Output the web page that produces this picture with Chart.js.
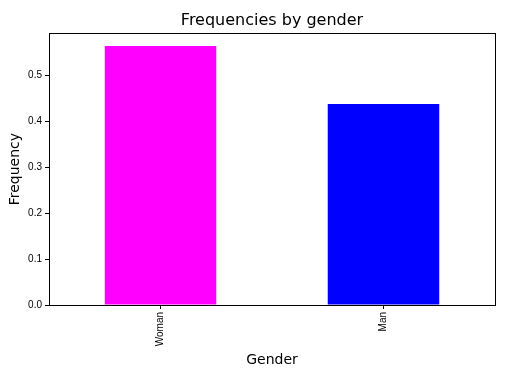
<!DOCTYPE html>
<html>
<head>
<meta charset="utf-8">
<script src="https://cdn.jsdelivr.net/npm/chart.js@4"></script>
<style>
  html, body { margin: 0; padding: 0; background: #fff; }
  #wrap { width: 524px; height: 380px; }
</style>
</head>
<body>
<div id="wrap"><canvas id="grafico" width="524" height="380"></canvas></div>
<script>
const categorias = ['Woman', 'Man'];
const frequencias = [0.563, 0.437];
const coresBarras = ['#ff00ff', '#0000ff'];
const ticksY = [0.0, 0.1, 0.2, 0.3, 0.4, 0.5];
const limiteY = 0.591;

// moldura preta em volta da área do gráfico (estilo matplotlib)
const moldura = {
    id: 'moldura',
    afterDraw(chart) {
        const { ctx, chartArea } = chart;
        ctx.save();
        ctx.strokeStyle = '#000';
        ctx.lineWidth = 1;
        ctx.strokeRect(Math.round(chartArea.left) + 0.5, Math.round(chartArea.top) + 0.5,
            Math.round(chartArea.right - chartArea.left), Math.round(chartArea.bottom - chartArea.top));
        ctx.restore();
    }
};

const ctx = document.getElementById('grafico').getContext('2d');
new Chart(ctx, {
    type: 'bar',
    data: {
        labels: categorias,
        datasets: [{
            data: frequencias,
            backgroundColor: coresBarras,
            borderWidth: 0,
            barPercentage: 0.5,
            categoryPercentage: 1.0
        }]
    },
    options: {
        responsive: false,
        animation: false,
        layout: { padding: { left: 0, right: 29, top: 0, bottom: 0 } },
        plugins: {
            legend: { display: false },
            tooltip: { enabled: false },
            title: {
                display: true,
                text: 'Frequencies by gender',
                fullSize: false,
                color: '#000',
                font: { family: 'DejaVu Sans', size: 16, weight: 'normal', lineHeight: 1.2 },
                padding: { top: 11, bottom: 3 }
            }
        },
        scales: {
            x: {
                grid: { display: true, offset: false, drawOnChartArea: false, tickLength: 4, color: '#000' },
                border: { display: false },
                ticks: {
                    color: '#000',
                    font: { family: 'Liberation Sans', size: 10 },
                    minRotation: 90,
                    maxRotation: 90,
                    padding: 3
                },
                title: {
                    display: true,
                    text: 'Gender',
                    color: '#000',
                    font: { family: 'DejaVu Sans', size: 14, lineHeight: 1.2 },
                    padding: { top: 0, bottom: 11 }
                },
                afterFit(scale) { scale.height = 75; }
            },
            y: {
                min: 0,
                max: limiteY,
                grid: { display: true, drawOnChartArea: false, tickLength: 4, color: '#000' },
                border: { display: false },
                afterBuildTicks(scale) {
                    scale.ticks = ticksY.map(v => ({ value: v }));
                },
                ticks: {
                    color: '#000',
                    font: { family: 'Liberation Sans', size: 10 },
                    padding: 3,
                    callback: v => Number(v).toFixed(1)
                },
                title: {
                    display: true,
                    text: 'Frequency',
                    color: '#000',
                    font: { family: 'DejaVu Sans', size: 14, lineHeight: 1.2 },
                    padding: { top: 7, bottom: 0 }
                },
                afterFit(scale) { scale.width = 49; }
            }
        }
    },
    plugins: [moldura]
});
</script>
</body>
</html>
